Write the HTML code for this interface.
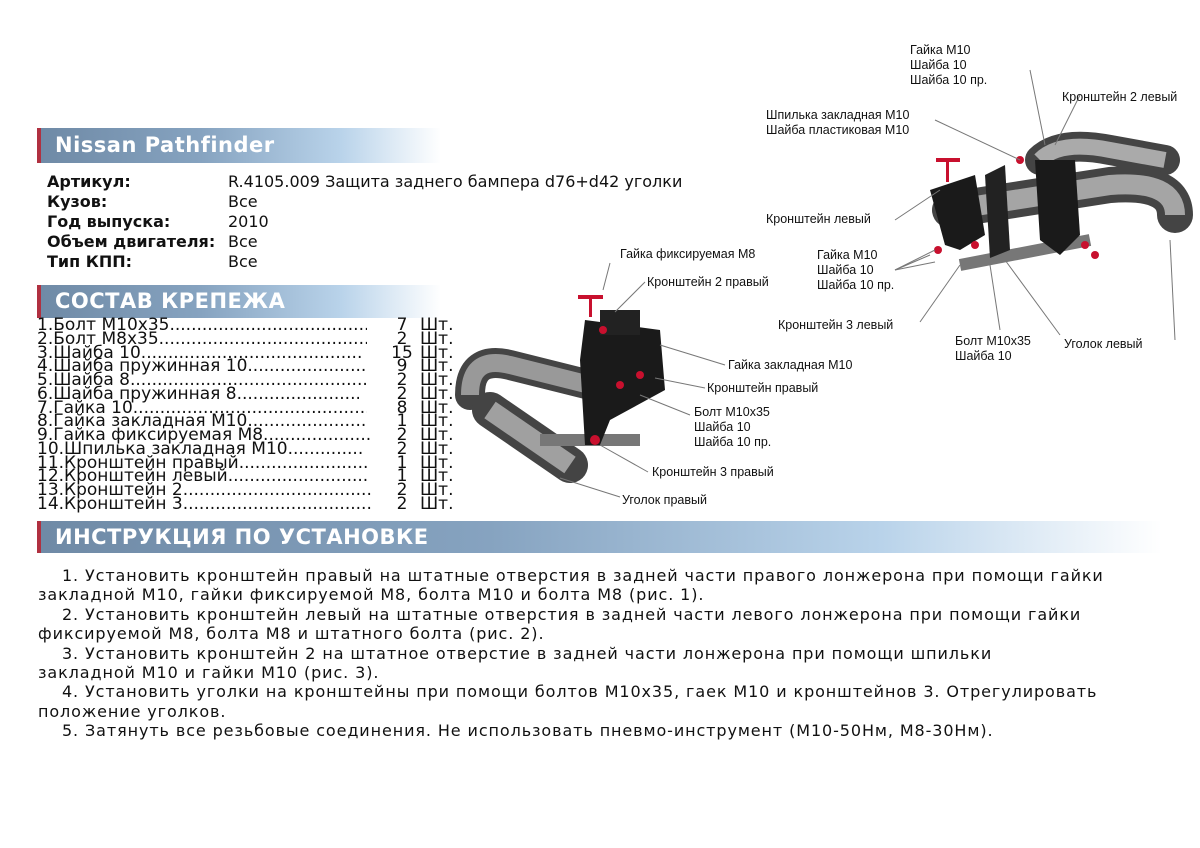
<!DOCTYPE html>
<html><head><meta charset="utf-8"><style>
body{margin:0;width:1200px;height:848px;background:#fff;position:relative;overflow:hidden;font-family:"DejaVu Sans","Liberation Sans",sans-serif;color:#111}
.bar{position:absolute;left:37px;border-left:4px solid #b03040;background:linear-gradient(90deg,#6f8aa6 0%,#86a3c0 40%,#b9d3ea 75%,#fff 100%);color:#fff;font-weight:bold;font-family:"DejaVu Sans",sans-serif;box-sizing:border-box;padding-left:14px;letter-spacing:0.5px}
.info{position:absolute;left:47px;top:172px;font-size:16px;line-height:20px}
.info b{display:inline-block;width:181px}
.list{position:absolute;left:37px;top:319px;font-size:17px;line-height:13.75px;white-space:nowrap}
.row{position:relative;height:13.75px}
.nm{position:absolute;left:0;width:330px;clip-path:inset(-10px 0 -10px 0)}
.q{position:absolute;left:350px;width:30px;text-align:center}
.u{position:absolute;left:383px}
.instr{position:absolute;left:38px;top:566px;font-size:16px;line-height:19.4px;white-space:nowrap;letter-spacing:0.9px}
.lbl{position:absolute;font-family:"Liberation Sans",sans-serif;font-size:12.5px;line-height:15px;color:#111}
</style></head><body>
<div class="bar" style="top:128px;width:404px;height:35px;font-size:21px;line-height:35px">Nissan Pathfinder</div>
<div class="info"><b>Артикул:</b>R.4105.009 Защита заднего бампера d76+d42 уголки<br><b>Кузов:</b>Все<br><b>Год выпуска:</b>2010<br><b>Объем двигателя:</b>Все<br><b>Тип КПП:</b>Все</div>
<div class="bar" style="top:285px;width:404px;height:33px;font-size:21px;line-height:33px">СОСТАВ КРЕПЕЖА</div>
<div class="list">
<div class="row"><span class="nm">1.Болт М10х35.......................................</span><span class="q">7</span><span class="u">Шт.</span></div>
<div class="row"><span class="nm">2.Болт М8х35........................................</span><span class="q">2</span><span class="u">Шт.</span></div>
<div class="row"><span class="nm" style="width:326px">3.Шайба 10...........................................</span><span class="q">15</span><span class="u">Шт.</span></div>
<div class="row"><span class="nm">4.Шайба пружинная 10.............................</span><span class="q">9</span><span class="u">Шт.</span></div>
<div class="row"><span class="nm">5.Шайба 8............................................</span><span class="q">2</span><span class="u">Шт.</span></div>
<div class="row"><span class="nm" style="width:322px">6.Шайба пружинная 8..............................</span><span class="q">2</span><span class="u">Шт.</span></div>
<div class="row"><span class="nm">7.Гайка 10............................................</span><span class="q">8</span><span class="u">Шт.</span></div>
<div class="row"><span class="nm">8.Гайка закладная М10.............................</span><span class="q">1</span><span class="u">Шт.</span></div>
<div class="row"><span class="nm" style="width:334px">9.Гайка фиксируемая М8............................</span><span class="q">2</span><span class="u">Шт.</span></div>
<div class="row"><span class="nm" style="width:326px">10.Шпилька закладная М10.........................</span><span class="q">2</span><span class="u">Шт.</span></div>
<div class="row"><span class="nm">11.Кронштейн правый...............................</span><span class="q">1</span><span class="u">Шт.</span></div>
<div class="row"><span class="nm">12.Кронштейн левый................................</span><span class="q">1</span><span class="u">Шт.</span></div>
<div class="row"><span class="nm" style="width:334px">13.Кронштейн 2.......................................</span><span class="q">2</span><span class="u">Шт.</span></div>
<div class="row"><span class="nm" style="width:334px">14.Кронштейн 3.......................................</span><span class="q">2</span><span class="u">Шт.</span></div>
</div>
<div class="bar" style="top:521px;width:1125px;height:32px;font-size:21px;line-height:32px">ИНСТРУКЦИЯ ПО УСТАНОВКЕ</div>
<div class="instr">&nbsp;&nbsp;&nbsp;&nbsp;1. Установить кронштейн правый на штатные отверстия в задней части правого лонжерона при помощи гайки<br>закладной М10, гайки фиксируемой М8, болта М10 и болта М8 (рис. 1).<br>&nbsp;&nbsp;&nbsp;&nbsp;2. Установить кронштейн левый на штатные отверстия в задней части левого лонжерона при помощи гайки<br>фиксируемой М8, болта М8 и штатного болта (рис. 2).<br>&nbsp;&nbsp;&nbsp;&nbsp;3. Установить кронштейн 2 на штатное отверстие в задней части лонжерона при помощи шпильки<br>закладной М10 и гайки М10 (рис. 3).<br>&nbsp;&nbsp;&nbsp;&nbsp;4. Установить уголки на кронштейны при помощи болтов М10х35, гаек М10 и кронштейнов 3. Отрегулировать<br>положение уголков.<br>&nbsp;&nbsp;&nbsp;&nbsp;5. Затянуть все резьбовые соединения. Не использовать пневмо-инструмент (М10-50Нм, М8-30Нм).</div>

<svg style="position:absolute;left:0;top:0" width="1200" height="848">
<path d="M470 395 Q470 355 510 365 L590 385" stroke="#444" stroke-width="30" fill="none" stroke-linecap="round"/>
<path d="M470 395 Q470 355 510 365 L590 385" stroke="#999" stroke-width="18" fill="none"/>
<path d="M490 410 L570 465" stroke="#444" stroke-width="36" stroke-linecap="round"/>
<path d="M490 410 L570 465" stroke="#a0a0a0" stroke-width="20"/>
<path d="M540 440 L640 440" stroke="#777" stroke-width="12"/>
<path d="M585 320 L660 330 L665 390 L610 420 L600 445 L585 445 L580 360 Z" fill="#1a1a1a"/>
<rect x="600" y="310" width="40" height="25" fill="#222"/>
<g fill="#c8102e"><rect x="578" y="295" width="25" height="4"/><rect x="589" y="299" width="3" height="18"/><circle cx="595" cy="440" r="5"/><circle cx="620" cy="385" r="4"/><circle cx="640" cy="375" r="4"/><circle cx="603" cy="330" r="4"/></g>
<path d="M1040 160 Q1060 140 1110 150 L1165 160" stroke="#444" stroke-width="30" fill="none" stroke-linecap="round"/>
<path d="M1040 160 Q1060 140 1110 150 L1165 160" stroke="#aaa" stroke-width="16" fill="none"/>
<path d="M950 210 L1110 185 Q1175 180 1175 215" stroke="#444" stroke-width="36" fill="none" stroke-linecap="round"/>
<path d="M950 210 L1110 185 Q1175 180 1175 215" stroke="#a5a5a5" stroke-width="20" fill="none"/>
<path d="M960 265 L1090 240" stroke="#777" stroke-width="12"/>
<path d="M930 190 L975 175 L985 235 L960 250 L945 245 Z" fill="#1a1a1a"/>
<path d="M985 175 L1005 165 L1010 250 L990 258 Z" fill="#222"/>
<path d="M1035 160 L1075 160 L1080 235 L1060 255 L1040 240 Z" fill="#1a1a1a"/>
<g fill="#c8102e"><rect x="936" y="158" width="24" height="4"/><rect x="946" y="162" width="3" height="20"/><circle cx="938" cy="250" r="4"/><circle cx="975" cy="245" r="4"/><circle cx="1085" cy="245" r="4"/><circle cx="1095" cy="255" r="4"/><circle cx="1020" cy="160" r="4"/></g>
<g stroke="#777" stroke-width="1" fill="none">
<line x1="610" y1="263" x2="603" y2="290"/><line x1="645" y1="282" x2="615" y2="312"/><line x1="725" y1="365" x2="660" y2="345"/><line x1="705" y1="388" x2="655" y2="378"/><line x1="690" y1="415" x2="640" y2="395"/><line x1="648" y1="472" x2="600" y2="445"/><line x1="620" y1="497" x2="560" y2="478"/>
<line x1="1030" y1="70" x2="1045" y2="145"/><line x1="1080" y1="95" x2="1055" y2="145"/><line x1="935" y1="120" x2="1020" y2="160"/><line x1="895" y1="220" x2="940" y2="190"/><line x1="895" y1="270" x2="930" y2="255"/><line x1="895" y1="270" x2="935" y2="250"/><line x1="895" y1="270" x2="935" y2="262"/><line x1="920" y1="322" x2="960" y2="265"/><line x1="1000" y1="330" x2="990" y2="265"/><line x1="1060" y1="335" x2="1005" y2="260"/><line x1="1175" y1="340" x2="1170" y2="240"/>
</g>
</svg>
<div class="lbl" style="left:620px;top:247px">Гайка фиксируемая М8</div>
<div class="lbl" style="left:647px;top:275px">Кронштейн 2 правый</div>
<div class="lbl" style="left:728px;top:358px">Гайка закладная М10</div>
<div class="lbl" style="left:707px;top:381px">Кронштейн правый</div>
<div class="lbl" style="left:694px;top:405px">Болт М10х35<br>Шайба 10<br>Шайба 10 пр.</div>
<div class="lbl" style="left:652px;top:465px">Кронштейн 3 правый</div>
<div class="lbl" style="left:622px;top:493px">Уголок правый</div>
<div class="lbl" style="left:910px;top:43px">Гайка М10<br>Шайба 10<br>Шайба 10 пр.</div>
<div class="lbl" style="left:1062px;top:90px">Кронштейн 2 левый</div>
<div class="lbl" style="left:766px;top:108px">Шпилька закладная М10<br>Шайба пластиковая М10</div>
<div class="lbl" style="left:766px;top:212px">Кронштейн левый</div>
<div class="lbl" style="left:817px;top:248px">Гайка М10<br>Шайба 10<br>Шайба 10 пр.</div>
<div class="lbl" style="left:778px;top:318px">Кронштейн 3 левый</div>
<div class="lbl" style="left:955px;top:334px">Болт М10х35<br>Шайба 10</div>
<div class="lbl" style="left:1064px;top:337px">Уголок левый</div>
</body></html>
